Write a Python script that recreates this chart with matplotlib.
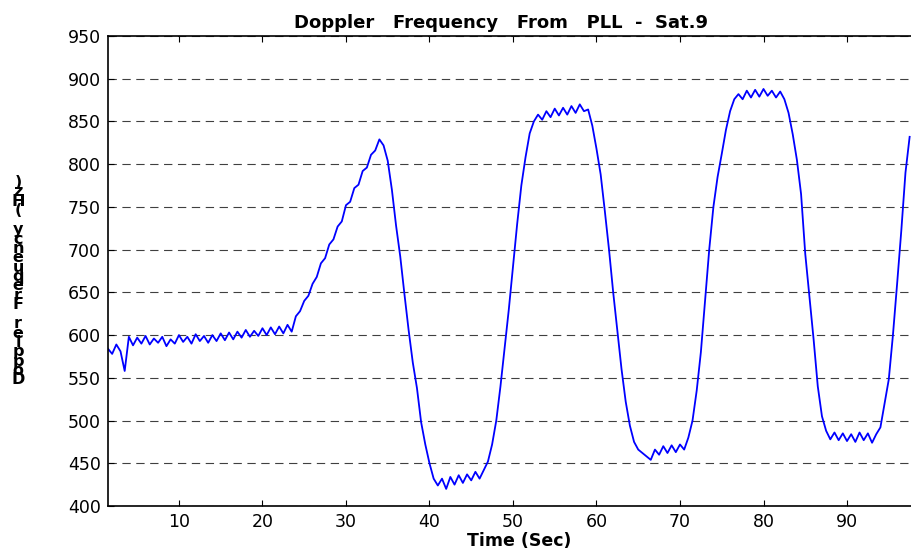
import numpy as np
import matplotlib
matplotlib.use("Agg")
import matplotlib.pyplot as plt

plt.rcParams['font.family'] = ['DejaVu Sans']
plt.rcParams['lines.scale_dashes'] = False

# tempo de amostragem (s): 1.5 .. 97.5 a cada 0.5 s
t0 = 1.5
dt = 0.5

# frequência Doppler (Hz)
doppler = [
    584, 578, 589, 581, 558, 598, 588, 597, 590, 599,   # 1.5 - 6.0
    589, 596, 591, 598, 587, 595, 590, 600, 592, 598,   # 6.5 - 11.0
    590, 601, 593, 599, 591, 600, 593, 602, 594, 603,   # 11.5 - 16.0
    595, 604, 597, 606, 598, 605, 599, 608, 600, 609,   # 16.5 - 21.0
    601, 610, 602, 612, 604, 622, 628, 640, 646, 660,   # 21.5 - 26.0
    668, 684, 690, 706, 712, 727, 733, 752, 756, 772,   # 26.5 - 31.0
    776, 792, 796, 811, 816, 829, 822, 804, 770, 728,   # 31.5 - 36.0
    692, 648, 606, 568, 538, 498, 472, 450, 432, 424,   # 36.5 - 41.0
    432, 420, 434, 425, 436, 427, 437, 430, 440, 432,   # 41.5 - 46.0
    442, 452, 472, 500, 540, 585, 630, 680, 730, 775,   # 46.5 - 51.0
    808, 836, 850, 858, 852, 862, 855, 865, 857, 866,   # 51.5 - 56.0
    858, 868, 860, 870, 862, 864, 845, 818, 788, 745,   # 56.5 - 61.0
    700, 650, 605, 560, 522, 494, 475, 466, 462, 458,   # 61.5 - 66.0
    454, 466, 460, 470, 462, 471, 463, 472, 466, 480,   # 66.5 - 71.0
    500, 535, 580, 640, 700, 750, 785, 812, 840, 862,   # 71.5 - 76.0
    876, 882, 876, 886, 878, 887, 879, 888, 880, 886,   # 76.5 - 81.0
    878, 885, 876, 860, 835, 805, 765, 695, 645, 595,   # 81.5 - 86.0
    540, 505, 488, 478, 486, 477, 485, 476, 484, 475,   # 86.5 - 91.0
    486, 477, 485, 474, 484, 492, 520, 548, 600, 660,   # 91.5 - 96.0
    722, 790, 832,                                      # 96.5 - 97.5
]
tempo = t0 + dt * np.arange(len(doppler))

yticks = [400, 450, 500, 550, 600, 650, 700, 750, 800, 850, 900, 950]
xticks = [10, 20, 30, 40, 50, 60, 70, 80, 90]

fig = plt.figure(figsize=(9.12, 5.58), dpi=100)
ax = fig.add_axes([0.1184, 0.0932, 0.9019, 0.8423])

ax.plot(tempo, doppler, color='#0000ff', linewidth=1.3)

ax.set_xlim(1.5, 100)
ax.set_ylim(400, 950)
ax.set_xticks(xticks)
ax.set_yticks(yticks)
ax.tick_params(direction='in', length=4, labelsize=12.5, top=True, width=0.8,
               pad=5)
ax.yaxis.grid(True, color='0.25', linestyle=(0, (6, 4)), linewidth=0.8)
ax.spines['right'].set_visible(False)
for s in ['left', 'bottom', 'top']:
    ax.spines[s].set_linewidth(1.2)

ax.set_title('Doppler   Frequency   From   PLL  -  Sat.9', fontsize=13,
             fontweight='bold', pad=6, x=0.478)
ax.set_xlabel('Time (Sec)', fontsize=12.5, fontweight='bold', labelpad=1)

# rótulo do eixo y com letras empilhadas (como no original)
ylab = 'Doppler Frequency (Hz)'
for i, ch in enumerate(ylab):
    fig.text(18 / 912, 1 - (380 - i * 9.4) / 558, ch, fontsize=11.5,
             fontweight='bold', ha='center', va='center')

plt.savefig('out.png', dpi=100)
